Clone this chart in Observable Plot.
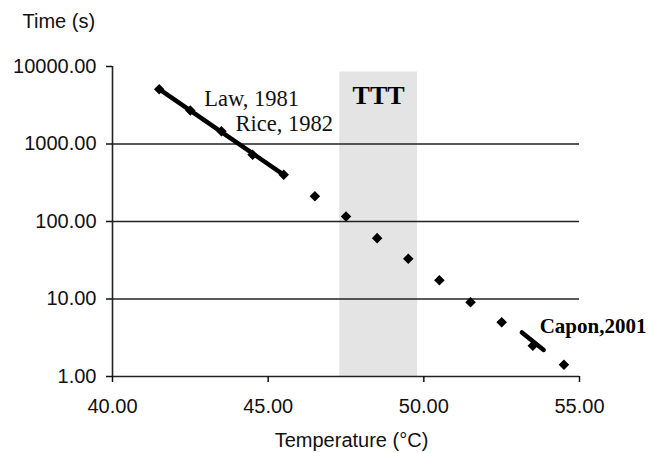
<!DOCTYPE html>
<html><head><meta charset="utf-8">
<script src="https://cdn.jsdelivr.net/npm/d3@7"></script>
<script src="https://cdn.jsdelivr.net/npm/@observablehq/plot@0.6"></script>
<style>body{margin:0;background:#fff;} #chart svg{display:block;}</style>
</head><body><div id="chart"></div>
<script>
// Data
const temperatures = [41.5, 42.5, 43.5, 44.5, 45.5, 46.5, 47.5, 48.5, 49.5, 50.5, 51.5, 52.5, 53.5, 54.5];
const times = [5100, 2700, 1460, 725, 400, 212, 116, 61, 33, 17.5, 9.1, 5.0, 2.5, 1.42];
const lawRiceTemps = [41.5, 45.5];
const lawRiceTimes = [5100, 400];
const caponTemps = [53.15, 53.85];
const caponTimes = [3.7, 2.2];
const tttRange = [47.3, 49.8];
const tttTimes = [1, 8500];
const xTicks = [40, 45, 50, 55];
const yTicks = [1, 10, 100, 1000, 10000];
const gridTimes = [10, 100, 1000];
const serifLabels = ["Law, 1981", "Rice, 1982"];
const serifLabelTemps = [42.95, 43.95];
const serifLabelTimes = [3050, 1450];
const boldLabels = ["TTT", "Capon,2001"];
const boldLabelTemps = [47.71, 53.72];
const boldLabelTimes = [3330, 3.62];
const yTitle = "Time (s)";
const xTitle = "Temperature (°C)";

const fmt = d3.format(".2f");
const serif = "Liberation Serif, Times New Roman, serif";

const chart = Plot.plot({
  width: 648, height: 453,
  marginLeft: 112, marginRight: 69, marginTop: 66, marginBottom: 77,
  style: {fontFamily: "Liberation Sans, Arial, sans-serif", fontSize: "20px", color: "#111", background: "#fff"},
  x: {domain: [40, 55]},
  y: {type: "log", domain: [1, 10000]},
  marks: [
    Plot.rect([0], {x1: [tttRange[0]], x2: [tttRange[1]], y1: [tttTimes[0]], y2: [tttTimes[1]], fill: "#e4e4e4"}),
    Plot.ruleY(gridTimes, {stroke: "#222", strokeWidth: 1.6}),
    Plot.ruleX([40], {stroke: "#222", strokeWidth: 1.6}),
    Plot.ruleY([1], {stroke: "#222", strokeWidth: 1.6}),
    Plot.axisX({ticks: xTicks, tickFormat: fmt, tickSize: 6, tickPadding: 16, label: null, strokeWidth: 1.5, fill: "#111"}),
    Plot.axisY({ticks: yTicks, tickFormat: fmt, tickSize: 6, tickPadding: 10, label: null, strokeWidth: 1.5, fill: "#111"}),
    Plot.line(lawRiceTemps, {x: lawRiceTemps, y: lawRiceTimes, stroke: "#000", strokeWidth: 4.5, strokeLinecap: "round"}),
    Plot.line(caponTemps, {x: caponTemps, y: caponTimes, stroke: "#000", strokeWidth: 4.5, strokeLinecap: "round"}),
    Plot.dot(temperatures, {x: temperatures, y: times, symbol: "square", rotate: 45, r: 4.2, fill: "#000", stroke: null}),
    Plot.text(serifLabels, {x: serifLabelTemps, y: serifLabelTimes, text: serifLabels, textAnchor: "start", lineAnchor: "bottom", fontFamily: serif, fontSize: 22.5, fill: "#111"}),
    Plot.text(boldLabels, {x: boldLabelTemps, y: boldLabelTimes, text: boldLabels, textAnchor: "start", lineAnchor: "bottom", fontFamily: serif, fontWeight: "bold", fontSize: (d) => d === "TTT" ? 26 : 21, fill: "#000"}),
    Plot.text([yTitle], {frameAnchor: "top-left", text: [yTitle], dx: -90, dy: -39, textAnchor: "start", lineAnchor: "bottom", fontSize: 20, fill: "#111"}),
    Plot.text([xTitle], {frameAnchor: "bottom", text: [xTitle], dx: 5.5, dy: 70, textAnchor: "middle", lineAnchor: "bottom", fontSize: 20, fill: "#111"})
  ]
});
document.getElementById("chart").append(chart);
</script>
</body></html>
